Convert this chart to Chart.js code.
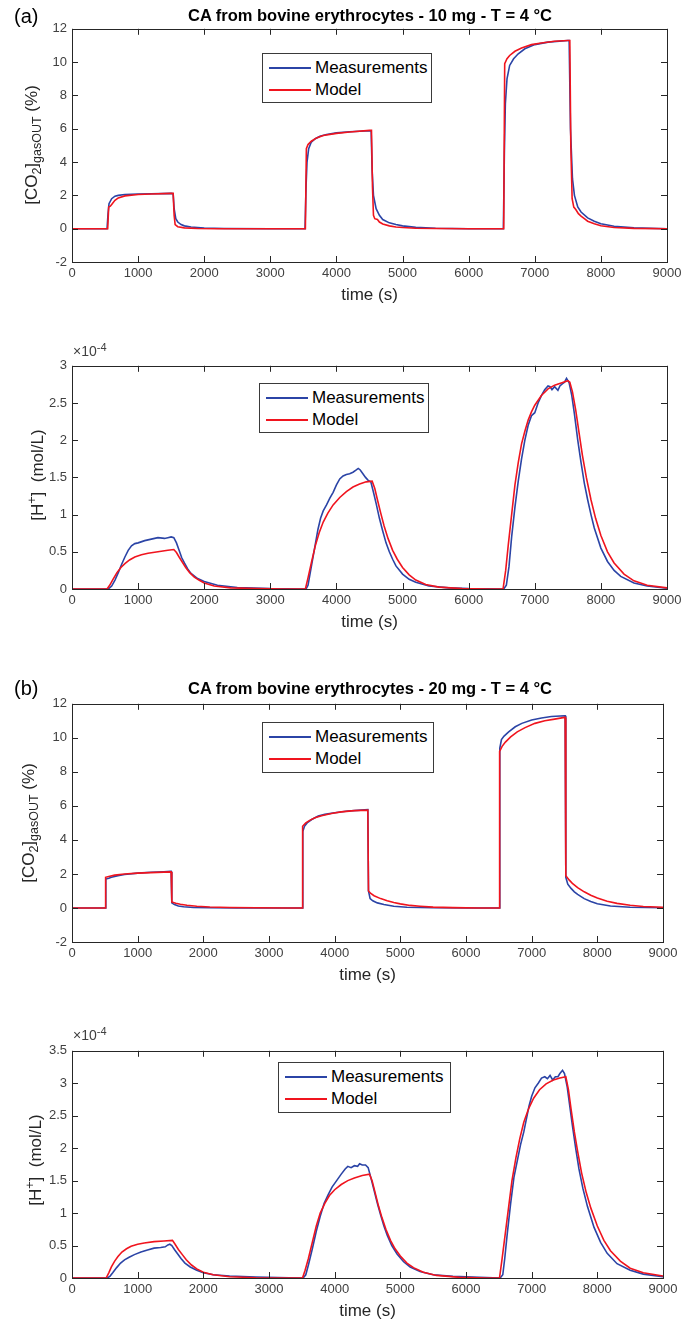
<!DOCTYPE html>
<html>
<head>
<meta charset="utf-8">
<script src="https://cdn.jsdelivr.net/npm/chart.js@4.4.1/dist/chart.umd.min.js"></script>
<style>
  body { margin: 0; background: #fff; }
  #page { position: relative; width: 700px; height: 1326px; font-family: "Liberation Sans", Arial, sans-serif; color: #262626; }
  canvas { position: absolute; left: 0; }
  .txt { position: absolute; white-space: nowrap; line-height: 1; }
  .title { font-weight: bold; font-size: 16.5px; color: #000; transform: translate(-50%, -50%); }
  .tag { font-size: 20px; color: #000; transform: translateY(-50%); }
  .ylab { font-size: 17px; transform: translate(-50%, -50%) rotate(-90deg); }
  .ylab sub, .ylab sup { font-size: 12.5px; }
  .exp { font-size: 14px; color: #404040; transform: translateY(-50%); }
  .exp sup { font-size: 11px; }
  .legend { position: absolute; background: #fff; border: 1.5px solid #3a3a3a; box-sizing: border-box; font-size: 17px; color: #000; }
  .legend .row { display: flex; align-items: center; height: 22px; }
  .legend .sw { width: 42px; height: 0; border-top: 2px solid; margin: 0 4px 0 6px; }
</style>
</head>
<body>
<div id="page">
  <canvas id="a1"></canvas>
  <canvas id="a2"></canvas>
  <canvas id="b1"></canvas>
  <canvas id="b2"></canvas>
</div>
<script>
// --- Axis ticks ---
const xTicks = [0, 1000, 2000, 3000, 4000, 5000, 6000, 7000, 8000, 9000];
const co2Ticks = [-2, 0, 2, 4, 6, 8, 10, 12];
const hTicksA = [0, 0.5, 1, 1.5, 2, 2.5, 3];
const hTicksB = [0, 0.5, 1, 1.5, 2, 2.5, 3, 3.5];

const seriesNames = ['Measurements', 'Model'];
const seriesColors = ['#2b44a6', '#f0141e'];

// --- (a) 10 mg : CO2 gas out (%) as [time s, value] ---
const co2MeasA = [[0,0],[530,0],[545,0.9],[560,1.5],[600,1.8],[650,1.95],[700,2.0],[800,2.05],[1000,2.08],[1200,2.1],[1500,2.12],[1530,2.1],[1545,1.2],[1570,0.6],[1600,0.4],[1650,0.25],[1700,0.17],[1800,0.1],[2000,0.04],[2300,0.01],[3000,0],
  [3525,0],[3540,2.5],[3555,4.0],[3580,4.8],[3620,5.2],[3680,5.4],[3750,5.55],[3850,5.65],[4000,5.75],[4200,5.82],[4500,5.88],[4525,5.85],[4540,3.5],[4560,2.0],[4600,1.2],[4650,0.8],[4700,0.55],[4800,0.35],[4900,0.25],[5000,0.17],[5200,0.08],[5500,0.03],[6000,0],
  [6525,0],[6540,4.5],[6555,7.5],[6580,9.0],[6620,9.8],[6680,10.2],[6750,10.5],[6850,10.8],[7000,11.05],[7200,11.2],[7500,11.3],[7520,11.3],[7540,6.0],[7570,3.0],[7600,2.0],[7650,1.3],[7700,1.0],[7800,0.65],[7900,0.45],[8000,0.3],[8200,0.15],[8500,0.05],[9000,0]];
const co2ModelA = [[0,0],[540,0],[555,1.3],[580,1.35],[600,1.45],[650,1.7],[700,1.85],[800,1.97],[1000,2.05],[1200,2.08],[1500,2.12],[1530,2.12],[1545,0.8],[1560,0.25],[1600,0.12],[1700,0.05],[1900,0.01],[2200,0],
  [3530,0],[3545,4.8],[3570,5.05],[3620,5.25],[3700,5.45],[3800,5.6],[4000,5.72],[4200,5.8],[4500,5.9],[4530,5.9],[4545,2.5],[4560,0.8],[4580,0.6],[4620,0.55],[4650,0.4],[4700,0.28],[4800,0.17],[4900,0.1],[5000,0.07],[5200,0.03],[5500,0.01],[6000,0],
  [6530,0],[6545,9.9],[6580,10.2],[6620,10.4],[6700,10.65],[6800,10.85],[6950,11.05],[7100,11.15],[7300,11.25],[7500,11.3],[7530,11.3],[7545,5.0],[7565,1.8],[7590,1.3],[7620,1.15],[7660,0.9],[7700,0.75],[7750,0.6],[7800,0.45],[7900,0.3],[8000,0.18],[8200,0.07],[8500,0.02],[9000,0]];

// --- (a) 10 mg : H+ (x 1e-4 mol/L) ---
const hMeasA = [[0,0],[550,0],[600,0.04],[650,0.12],[700,0.22],[750,0.33],[800,0.43],[850,0.52],[900,0.58],[950,0.61],[1000,0.62],[1100,0.65],[1200,0.67],[1300,0.69],[1400,0.68],[1450,0.69],[1500,0.7],[1540,0.69],[1580,0.62],[1620,0.52],[1660,0.42],[1700,0.35],[1750,0.27],[1800,0.21],[1900,0.14],[2000,0.1],[2200,0.05],[2500,0.02],[3000,0.005],[3500,0],
  [3540,0],[3570,0.05],[3620,0.3],[3680,0.6],[3720,0.8],[3760,0.95],[3800,1.05],[3850,1.13],[3900,1.22],[3950,1.3],[4000,1.4],[4050,1.48],[4100,1.52],[4150,1.54],[4200,1.55],[4250,1.57],[4300,1.6],[4330,1.62],[4360,1.6],[4400,1.55],[4440,1.5],[4480,1.46],[4520,1.44],[4560,1.3],[4600,1.15],[4650,0.95],[4700,0.78],[4750,0.62],[4800,0.5],[4850,0.4],[4900,0.31],[5000,0.2],[5100,0.13],[5200,0.09],[5400,0.04],[5700,0.015],[6000,0.005],
  [6530,0],[6570,0.05],[6610,0.3],[6650,0.7],[6700,1.1],[6750,1.45],[6800,1.75],[6850,2.0],[6900,2.2],[6950,2.33],[7000,2.37],[7050,2.5],[7100,2.6],[7150,2.68],[7200,2.73],[7230,2.72],[7260,2.68],[7300,2.72],[7350,2.67],[7380,2.73],[7420,2.76],[7450,2.78],[7480,2.83],[7520,2.77],[7560,2.6],[7600,2.35],[7650,2.0],[7700,1.7],[7750,1.42],[7800,1.2],[7850,1.0],[7900,0.82],[8000,0.55],[8100,0.37],[8200,0.25],[8300,0.17],[8500,0.08],[8700,0.04],[9000,0.01]];
const hModelA = [[0,0],[530,0],[570,0.05],[620,0.13],[680,0.22],[740,0.29],[800,0.34],[870,0.39],[950,0.43],[1050,0.46],[1150,0.48],[1300,0.5],[1450,0.52],[1540,0.53],[1580,0.49],[1620,0.43],[1670,0.36],[1720,0.29],[1780,0.22],[1850,0.16],[1920,0.12],[2000,0.08],[2150,0.04],[2400,0.015],[2800,0.005],[3200,0],
  [3530,0],[3570,0.15],[3620,0.35],[3680,0.58],[3740,0.76],[3800,0.9],[3870,1.02],[3950,1.13],[4050,1.23],[4150,1.31],[4250,1.37],[4350,1.41],[4450,1.44],[4540,1.45],[4580,1.35],[4620,1.2],[4670,1.02],[4720,0.85],[4780,0.68],[4850,0.52],[4920,0.4],[5000,0.29],[5100,0.19],[5200,0.12],[5350,0.06],[5550,0.025],[5900,0.005],[6300,0],
  [6520,0],[6560,0.25],[6600,0.6],[6650,1.0],[6700,1.4],[6750,1.7],[6800,1.95],[6850,2.12],[6900,2.27],[6950,2.38],[7000,2.47],[7100,2.6],[7200,2.69],[7300,2.74],[7400,2.77],[7500,2.8],[7530,2.78],[7570,2.65],[7620,2.4],[7670,2.1],[7720,1.8],[7780,1.5],[7850,1.2],[7920,0.95],[8000,0.72],[8100,0.5],[8200,0.35],[8350,0.2],[8500,0.11],[8700,0.05],[9000,0.015]];

// --- (b) 20 mg : CO2 gas out (%) ---
const co2MeasB = [[0,0],[505,0],[515,1.7],[560,1.75],[600,1.8],[700,1.9],[800,1.97],[1000,2.05],[1200,2.1],[1400,2.13],[1500,2.15],[1510,2.15],[1520,0.3],[1560,0.2],[1620,0.12],[1700,0.07],[1850,0.03],[2100,0.01],[2500,0],
  [3505,0],[3515,4.5],[3540,4.8],[3580,5.0],[3650,5.2],[3750,5.4],[3850,5.5],[4000,5.6],[4200,5.7],[4400,5.75],[4505,5.78],[4515,1.0],[4540,0.55],[4580,0.42],[4650,0.3],[4750,0.2],[4900,0.1],[5100,0.04],[5500,0.01],[6000,0],
  [6505,0],[6515,9.4],[6540,9.9],[6580,10.1],[6650,10.35],[6750,10.65],[6850,10.85],[7000,11.05],[7150,11.17],[7300,11.25],[7500,11.3],[7510,11.3],[7520,1.8],[7550,1.4],[7600,1.15],[7650,0.95],[7700,0.8],[7800,0.55],[7900,0.38],[8000,0.25],[8200,0.12],[8500,0.04],[9000,0.01]];
const co2ModelB = [[0,0],[505,0],[512,1.8],[560,1.85],[650,1.93],[800,2.0],[1000,2.05],[1200,2.08],[1500,2.12],[1510,2.12],[1520,0.35],[1580,0.28],[1650,0.22],[1750,0.16],[1900,0.1],[2100,0.06],[2400,0.03],[2800,0.01],[3300,0],
  [3505,0],[3512,4.8],[3560,5.0],[3620,5.15],[3700,5.3],[3800,5.42],[3950,5.55],[4100,5.65],[4300,5.72],[4505,5.75],[4515,1.0],[4550,0.85],[4600,0.72],[4700,0.55],[4800,0.42],[4900,0.32],[5000,0.24],[5150,0.15],[5300,0.1],[5500,0.05],[5800,0.02],[6200,0],
  [6505,0],[6512,9.2],[6550,9.5],[6600,9.75],[6680,10.05],[6780,10.35],[6900,10.6],[7050,10.85],[7200,11.0],[7350,11.1],[7500,11.2],[7510,11.2],[7520,1.9],[7570,1.65],[7620,1.45],[7700,1.2],[7800,0.95],[7900,0.75],[8000,0.58],[8150,0.4],[8300,0.27],[8500,0.16],[8700,0.09],[9000,0.04]];

// --- (b) 20 mg : H+ (x 1e-4 mol/L) ---
const hMeasB = [[0,0],[540,0],[580,0.03],[620,0.08],[680,0.16],[740,0.23],[800,0.28],[870,0.32],[950,0.36],[1050,0.4],[1150,0.43],[1250,0.46],[1350,0.47],[1420,0.48],[1460,0.51],[1490,0.52],[1520,0.5],[1560,0.44],[1610,0.37],[1660,0.3],[1720,0.23],[1800,0.17],[1900,0.12],[2000,0.08],[2150,0.05],[2400,0.03],[2800,0.015],[3300,0.005],
  [3520,0],[3560,0.05],[3600,0.2],[3660,0.45],[3720,0.72],[3780,0.95],[3840,1.15],[3900,1.28],[3960,1.4],[4030,1.5],[4100,1.6],[4160,1.68],[4200,1.72],[4250,1.7],[4300,1.73],[4350,1.72],[4380,1.76],[4420,1.74],[4470,1.74],[4510,1.7],[4550,1.55],[4600,1.35],[4650,1.15],[4700,0.97],[4750,0.8],[4800,0.66],[4870,0.5],[4950,0.37],[5050,0.25],[5150,0.17],[5300,0.1],[5500,0.05],[5800,0.025],[6200,0.01],
  [6520,0],[6560,0.05],[6590,0.3],[6630,0.7],[6680,1.15],[6730,1.55],[6780,1.8],[6830,2.05],[6880,2.25],[6920,2.45],[6960,2.65],[7000,2.8],[7050,2.93],[7100,3.0],[7150,3.08],[7200,3.1],[7240,3.07],[7280,3.12],[7320,3.05],[7360,3.1],[7400,3.1],[7430,3.15],[7470,3.2],[7500,3.15],[7540,2.95],[7580,2.65],[7620,2.35],[7670,2.0],[7720,1.68],[7780,1.38],[7850,1.1],[7950,0.78],[8050,0.55],[8150,0.38],[8300,0.22],[8500,0.12],[8700,0.06],[9000,0.02]];
const hModelB = [[0,0],[520,0],[560,0.08],[600,0.17],[650,0.26],[700,0.33],[760,0.4],[830,0.45],[900,0.49],[1000,0.52],[1100,0.54],[1250,0.56],[1400,0.57],[1530,0.58],[1570,0.52],[1620,0.44],[1680,0.36],[1740,0.28],[1820,0.2],[1900,0.14],[2000,0.09],[2150,0.05],[2400,0.02],[2800,0.005],[3300,0],
  [3510,0],[3550,0.12],[3600,0.3],[3660,0.55],[3720,0.8],[3780,1.0],[3850,1.15],[3920,1.27],[4000,1.36],[4100,1.44],[4200,1.5],[4300,1.54],[4420,1.58],[4530,1.6],[4570,1.5],[4620,1.3],[4670,1.1],[4720,0.93],[4780,0.75],[4850,0.58],[4920,0.45],[5000,0.34],[5100,0.23],[5200,0.16],[5350,0.09],[5550,0.04],[5900,0.01],[6300,0],
  [6510,0],[6550,0.3],[6600,0.7],[6650,1.1],[6700,1.5],[6760,1.85],[6820,2.15],[6880,2.4],[6950,2.6],[7030,2.77],[7120,2.9],[7220,2.99],[7330,3.05],[7430,3.08],[7520,3.1],[7560,2.9],[7600,2.6],[7650,2.25],[7700,1.95],[7760,1.62],[7830,1.32],[7900,1.08],[8000,0.8],[8100,0.58],[8200,0.42],[8350,0.26],[8500,0.15],[8700,0.08],[9000,0.03]];

// --- frame + inward tick marks (MATLAB box look) ---
const boxFrame = {
  id: 'boxFrame',
  afterDatasetsDraw(chart) {
    const { ctx, chartArea: a, scales: { x, y } } = chart;
    const tl = 6;
    ctx.save();
    ctx.strokeStyle = '#262626';
    ctx.lineWidth = 1;
    ctx.beginPath();
    x.ticks.forEach(t => {
      const p = Math.round(x.getPixelForValue(t.value)) + 0.5;
      ctx.moveTo(p, a.bottom); ctx.lineTo(p, a.bottom - tl);
      ctx.moveTo(p, a.top); ctx.lineTo(p, a.top + tl);
    });
    y.ticks.forEach(t => {
      const p = Math.round(y.getPixelForValue(t.value)) + 0.5;
      ctx.moveTo(a.left, p); ctx.lineTo(a.left + tl, p);
      ctx.moveTo(a.right, p); ctx.lineTo(a.right - tl, p);
    });
    ctx.stroke();
    ctx.strokeRect(Math.round(a.left) + 0.5, Math.round(a.top) + 0.5, Math.round(a.width), Math.round(a.height));
    ctx.restore();
  }
};

const page = document.getElementById('page');
function addText(cls, html, left, top) {
  const d = document.createElement('div');
  d.className = 'txt ' + cls;
  d.innerHTML = html;
  d.style.left = left + 'px';
  d.style.top = top + 'px';
  page.appendChild(d);
}
function addLegend(left, top, w, h) {
  const box = document.createElement('div');
  box.className = 'legend';
  Object.assign(box.style, { left: left + 'px', top: top + 'px', width: w + 'px', height: h + 'px', paddingTop: '3px' });
  seriesNames.forEach((n, i) => {
    const row = document.createElement('div');
    row.className = 'row';
    row.innerHTML = '<span class="sw" style="border-color:' + seriesColors[i] + '"></span><span>' + n + '</span>';
    box.appendChild(row);
  });
  page.appendChild(box);
}

// --- One MATLAB-like subplot per canvas ---
function makePanel(id, plot, yTicks, meas, model) {
  const padTop = 12, xAxisH = 44;
  const cv = document.getElementById(id);
  const h = plot.b - plot.t + padTop + xAxisH;
  cv.width = 700; cv.height = h;
  cv.style.top = (plot.t - padTop) + 'px';
  const tickFont = { family: '"Liberation Sans", Arial, sans-serif', size: 13 };
  return new Chart(cv, {
    type: 'line',
    data: {
      datasets: [meas, model].map((s, i) => ({
        label: seriesNames[i],
        data: s.map(p => ({ x: p[0], y: p[1] })),
        borderColor: seriesColors[i],
        borderWidth: 1.6,
        pointRadius: 0,
        tension: 0,
        order: 2 - i
      }))
    },
    options: {
      responsive: false,
      animation: false,
      events: [],
      layout: { padding: { top: padTop, right: 700 - plot.r, left: 0, bottom: 0 } },
      plugins: { legend: { display: false }, tooltip: { enabled: false } },
      scales: {
        x: {
          type: 'linear', min: xTicks[0], max: xTicks[xTicks.length - 1],
          afterBuildTicks: s => { s.ticks = xTicks.map(v => ({ value: v })); },
          afterFit: s => { s.height = xAxisH; },
          ticks: { font: tickFont, color: '#404040', padding: 4, maxRotation: 0, autoSkip: false, callback: v => String(v) },
          grid: { display: false, drawTicks: false },
          border: { display: false },
          title: { display: true, text: 'time (s)', color: '#262626', padding: 0,
                   font: { family: '"Liberation Sans", Arial, sans-serif', size: 17 } }
        },
        y: {
          type: 'linear', min: yTicks[0], max: yTicks[yTicks.length - 1],
          afterBuildTicks: s => { s.ticks = yTicks.map(v => ({ value: v })); },
          afterFit: s => { s.width = plot.l; },
          ticks: { font: tickFont, color: '#404040', padding: 5, callback: v => String(v) },
          grid: { display: false, drawTicks: false },
          border: { display: false }
        }
      }
    },
    plugins: [boxFrame]
  });
}

const plots = {
  a1: { l: 72, r: 667, t: 28, b: 262 },
  a2: { l: 72, r: 667, t: 365, b: 589 },
  b1: { l: 72, r: 663, t: 703, b: 942 },
  b2: { l: 72, r: 663, t: 1050, b: 1278 }
};

makePanel('a1', plots.a1, co2Ticks, co2MeasA, co2ModelA);
makePanel('a2', plots.a2, hTicksA, hMeasA, hModelA);
makePanel('b1', plots.b1, co2Ticks, co2MeasB, co2ModelB);
makePanel('b2', plots.b2, hTicksB, hMeasB, hModelB);

// --- text overlays ---
const co2Label = '[CO<sub>2</sub>]<sub>gasOUT</sub> (%)';
const hLabel = '[H<sup>+</sup>]&nbsp;&nbsp;(mol/L)';
const expLabel = '&times;10<sup>-4</sup>';

addText('tag', '(a)', 14, 16);
addText('title', 'CA from bovine erythrocytes - 10 mg - T = 4 °C', 370, 15);
addText('ylab', co2Label, 33, 145);
addText('exp', expLabel, 73, 350);
addText('ylab', hLabel, 36, 475);

addText('tag', '(b)', 14, 688);
addText('title', 'CA from bovine erythrocytes - 20 mg - T = 4 °C', 370, 688);
addText('ylab', co2Label, 30, 823);
addText('exp', expLabel, 73, 1034);
addText('ylab', hLabel, 34, 1160);

addLegend(262, 53, 170, 50);
addLegend(259, 383, 170, 50);
addLegend(262, 722, 172, 51);
addLegend(278, 1062, 173, 51);
</script>
</body>
</html>
